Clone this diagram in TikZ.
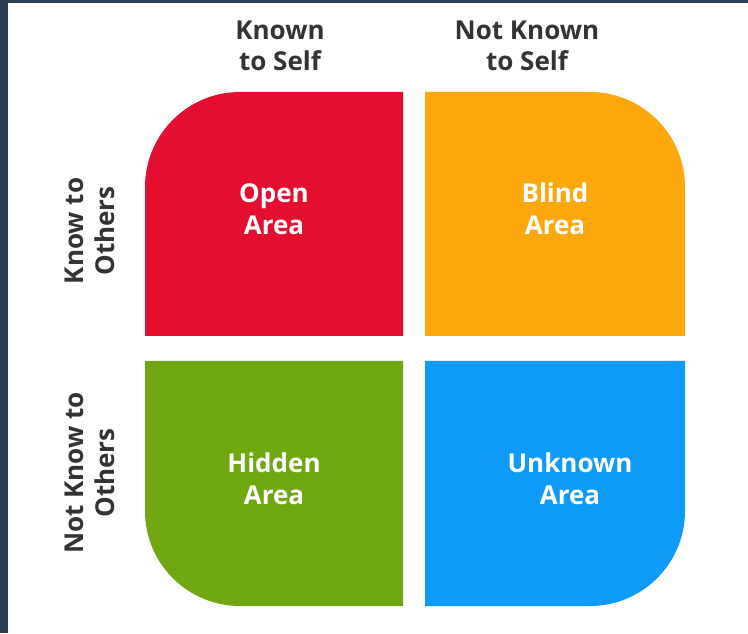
\documentclass[tikz,border=0pt]{standalone}
\usepackage{fontspec}
\setmainfont{Open Sans}
\definecolor{navy}{HTML}{2A3F56}
\definecolor{inkgray}{HTML}{333333}
\definecolor{openred}{HTML}{E40E30}
\definecolor{blindorange}{HTML}{FDA80D}
\definecolor{hiddengreen}{HTML}{6EA70F}
\definecolor{unknownblue}{HTML}{0E9BF7}
\tikzset{
	head/.style={align=center, text=inkgray, font=\bfseries\fontsize{26}{31}\selectfont},
	side/.style={head, rotate=90},
	area/.style={align=center, text=white, font=\bfseries\fontsize{26}{32}\selectfont}
}
\begin{document}
\begin{tikzpicture}[x=1pt,y=1pt]
		\useasboundingbox (0,0) rectangle (748,633);
		\fill [navy]  (0,0) rectangle (748,633);
		\fill [white] (8,0) rectangle (748,630);
		% the four panes, each with one round corner outside
		\fill [openred]     (145,297) -- (145,446) arc (180:90:95) -- (403,541) -- (403,297) -- cycle;
		\fill [blindorange] (425,297) -- (425,541) -- (590,541) arc (90:0:95) -- (685,297) -- cycle;
		\fill [hiddengreen] (145,272) -- (145,122) arc (180:270:95) -- (403,27) -- (403,272) -- cycle;
		\fill [unknownblue] (425,272) -- (425,27) -- (590,27) arc (270:360:95) -- (685,272) -- cycle;
		% headings
		\node [head] (self)    at (280,587) {Known\\to Self};
		\node [head] (notself) at (527,587) {Not Known\\to Self};
		\node [side] (others)    at (90,402) {Know to\\Others};
		\node [side] (notothers) at (90,160) {Not Know to\\Others};
		% pane labels
		\node [area] (open)    at (274,424) {Open\\Area};
		\node [area] (blind)   at (555,424) {Blind\\Area};
		\node [area] (hidden)  at (274,154) {Hidden\\Area};
		\node [area] (unknown) at (570,154) {Unknown\\Area};
	\end{tikzpicture}
\end{document}
